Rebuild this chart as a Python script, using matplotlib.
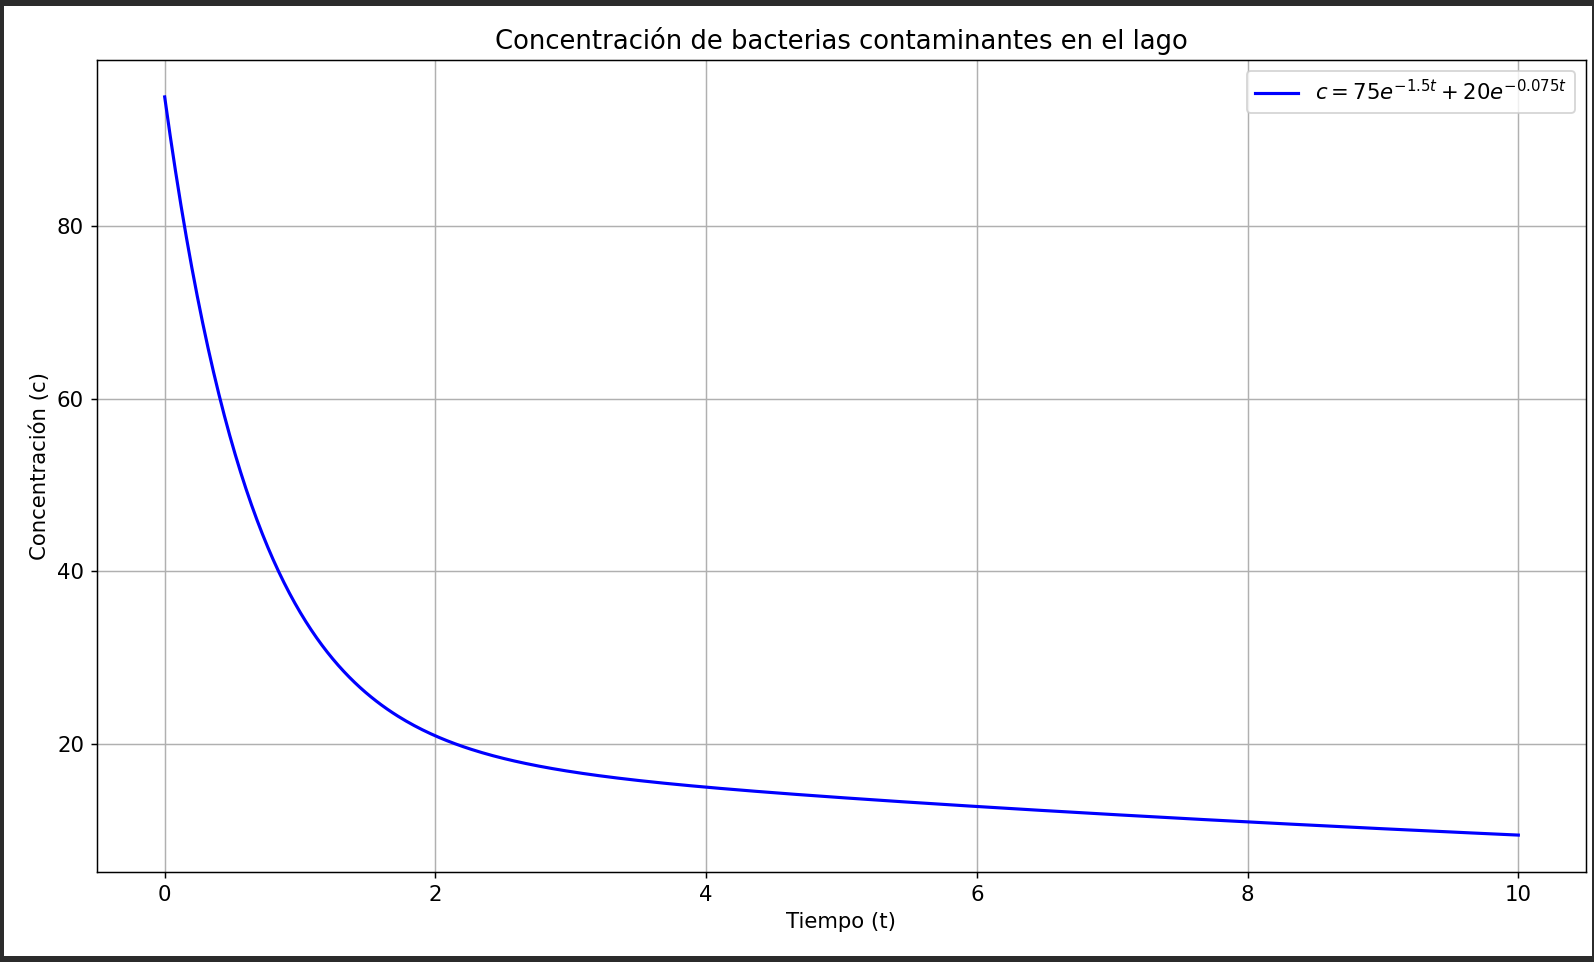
import numpy as np
import matplotlib
matplotlib.use('Agg')
import matplotlib.pyplot as plt
from matplotlib.patches import Rectangle

plt.rcParams['font.size'] = 11.5

# curve parameters as given in the legend
coefs = [75, 20]
rates = [1.5, 0.075]
t = np.linspace(0, 10, 500)
c = coefs[0] * np.exp(-rates[0] * t) + coefs[1] * np.exp(-rates[1] * t)

W, H = 1594, 962
fig = plt.figure(figsize=(W / 133, H / 133), dpi=133, facecolor='#2b2b2b')
# white page inside the dark screenshot frame
fig.patches.append(Rectangle((4 / W, 1 - 956 / H), 1588 / W, 950 / H,
                             transform=fig.transFigure, facecolor='white',
                             edgecolor='none', zorder=-1))
ax = fig.add_axes([97 / W, 1 - 872 / H, 1489 / W, 812 / H])

ax.plot(t, c, color='blue', linewidth=1.7, label=r'$c = 75e^{-1.5t} + 20e^{-0.075t}$')
ax.set_title("Concentración de bacterias contaminantes en el lago", fontsize=14)
ax.set_xlabel("Tiempo (t)")
ax.set_ylabel("Concentración (c)")
ax.set_yticks([20, 40, 60, 80])
ax.grid(True)
ax.legend(loc='upper right')

fig.savefig("out.png", dpi=133, facecolor=fig.get_facecolor())
